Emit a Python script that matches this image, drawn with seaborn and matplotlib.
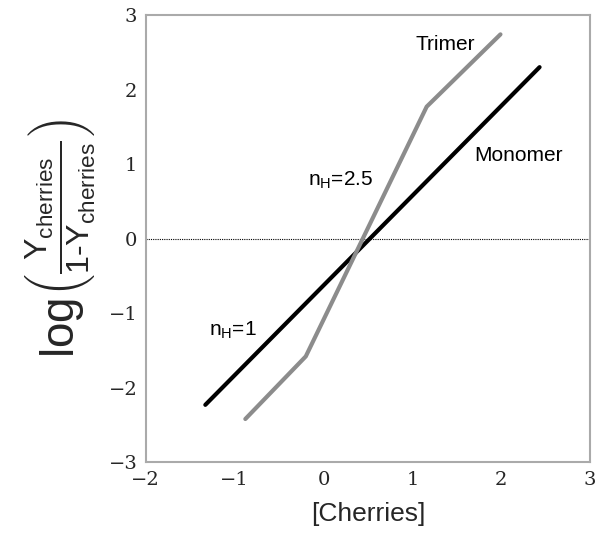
import matplotlib
matplotlib.use('Agg')
import matplotlib.pyplot as plt
import seaborn as sns
import pandas as pd

# data
monomer_x = [-1.33, 2.43]
monomer_y = [-2.23, 2.30]
trimer_x = [-0.88, -0.20, 1.16, 1.99]
trimer_y = [-2.42, -1.58, 1.77, 2.74]
x_ticks = [-2, -1, 0, 1, 2, 3]
y_ticks = [-3, -2, -1, 0, 1, 2, 3]

sns.set_theme(style='white')
plt.rcParams['mathtext.fontset'] = 'custom'
plt.rcParams['mathtext.rm'] = 'Liberation Sans'
plt.rcParams['mathtext.it'] = 'Liberation Sans'

df = pd.concat([
    pd.DataFrame({'x': monomer_x, 'y': monomer_y, 'form': 'Monomer'}),
    pd.DataFrame({'x': trimer_x, 'y': trimer_y, 'form': 'Trimer'}),
])

fig = plt.figure(figsize=(5.95, 5.35), dpi=100)
ax = fig.add_axes([0.245, 0.136, 0.747, 0.836])

ax.axhline(0, color='black', lw=0.8, ls=(0, (1, 1)), zorder=1)
sns.lineplot(data=df, x='x', y='y', hue='form', sort=False,
             palette={'Monomer': 'black', 'Trimer': '#8c8c8c'},
             linewidth=3, legend=False, ax=ax, zorder=3)

ax.set_xlim(-2, 3)
ax.set_ylim(-3, 3)
ax.set_xticks(x_ticks)
ax.set_yticks(y_ticks)
ax.set_xticklabels([f'{t}'.replace('-', '\u2212') for t in x_ticks],
                   family='DejaVu Serif', fontsize=14)
ax.set_yticklabels([f'{t}'.replace('-', '\u2212') for t in y_ticks],
                   family='DejaVu Serif', fontsize=14)
ax.tick_params(direction='in', length=2, color='#aaaaaa', pad=6)
for s in ax.spines.values():
    s.set_color('#aaaaaa')
    s.set_linewidth(1.5)

ax.set_xlabel('[Cherries]', family='Liberation Sans', fontsize=19, labelpad=10)
ax.set_ylabel(r'$\log\!\left(\frac{\mathrm{Y_{cherries}}}{\mathrm{1\text{-}Y_{cherries}}}\right)$',
              fontsize=33, labelpad=8)

txt = dict(family='Liberation Sans', fontsize=15, color='black', va='center')
ax.text(1.03, 2.6, 'Trimer', **txt)
ax.text(1.69, 1.11, 'Monomer', **txt)
ax.text(-0.17, 0.78, r'n$_\mathrm{H}$=2.5', **txt)
ax.text(-1.29, -1.23, r'n$_\mathrm{H}$=1', **txt)

plt.savefig('out.png', dpi=100)
